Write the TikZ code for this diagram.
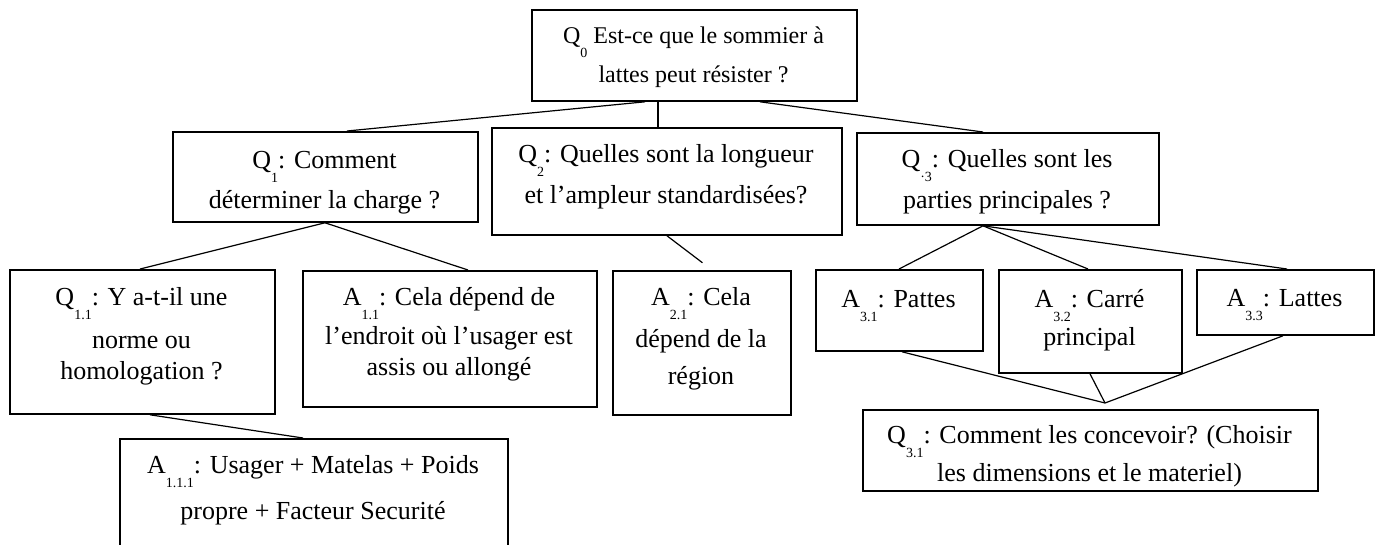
\documentclass[tikz,border=0pt]{standalone}
\usepackage{fontspec}
\setmainfont{Liberation Serif}
\usetikzlibrary{calc}
\newcommand\sbs[1]{\smash{\raisebox{-14pt}{\fontsize{14}{14}\selectfont #1}}}
\newcommand\fl{\rule{0pt}{18pt}}
\tikzset{
  box/.style={draw, line width=1.8pt, rectangle, inner sep=0pt, anchor=north west},
  txt/.style={anchor=north, inner sep=0pt, align=center, font=\fontsize{26}{31}\selectfont},
  txtsmall/.style={txt, font=\fontsize{24}{31}\selectfont},
  link/.style={line width=1.2pt},
}
\begin{document}
\begin{tikzpicture}[x=1pt,y=-1pt]
\clip (0,0) rectangle (1380,544);
% boxes
\node[box, minimum width=325pt, minimum height=91pt]  (Q0)   at (531,9)   {};
\node[box, minimum width=305pt, minimum height=90pt]  (Q1)   at (172,131) {};
\node[box, minimum width=350pt, minimum height=107pt] (Q2)   at (491,127) {};
\node[box, minimum width=302pt, minimum height=92pt]  (Q3)   at (856,132) {};
\node[box, minimum width=265pt, minimum height=144pt] (Q11)  at (9,269)   {};
\node[box, minimum width=294pt, minimum height=136pt] (A11)  at (302,270) {};
\node[box, minimum width=178pt, minimum height=144pt] (A21)  at (612,270) {};
\node[box, minimum width=167pt, minimum height=81pt]  (A31)  at (815,269) {};
\node[box, minimum width=183pt, minimum height=103pt] (A32)  at (998,269) {};
\node[box, minimum width=177pt, minimum height=65pt]  (A33)  at (1196,269) {};
\node[box, minimum width=455pt, minimum height=81pt]  (Q31)  at (862,409) {};
\node[box, minimum width=388pt, minimum height=130pt] (A111) at (119,438) {};
% texts
\node[txtsmall] (tQ0) at (693.5,25) {\fl Q\sbs{0} Est-ce que le sommier à\\[8pt] lattes peut résister ?};
\node[txt] (tQ1) at (324.5,150) {\fl Q\sbs{1}: Comment\\[9pt] déterminer la charge ?};
\node[txt] (tQ2) at (666,144) {\fl Q\sbs{2}: Quelles sont la longueur\\[10pt] et l’ampleur standardisées?};
\node[txt] (tQ3) at (1007,149) {\fl Q\sbs{·3}: Quelles sont les\\[10pt] parties principales ?};
\node[txt] (tQ11) at (141.5,287) {\fl Q\sbs{1.1}: Y a-t-il une\\[12pt] norme ou\\ homologation ?};
\node[txt] (tA11) at (449,287) {\fl A\sbs{1.1}: Cela dépend de\\[8pt] l’endroit où l’usager est\\ assis ou allongé};
\node[txt] (tA21) at (701,287) {\fl A\sbs{2.1}: Cela\\[11pt] dépend de la\\[6pt] région};
\node[txt] (tA31) at (898.5,289) {\fl A\sbs{3.1}: Pattes};
\node[txt] (tA32) at (1089.5,289) {\fl A\sbs{3.2}: Carré\\[7pt] principal};
\node[txt] (tA33) at (1284.5,288) {\fl A\sbs{3.3}: Lattes};
\node[txt] (tQ31) at (1089.5,425) {\fl Q\sbs{3.1}: Comment les concevoir? (Choisir\\[7pt] les dimensions et le materiel)};
\node[txt] (tA111) at (313,455) {\fl A\sbs{1.1.1}: Usager + Matelas + Poids\\[15pt] propre + Facteur Securité};
% connectors
\coordinate (apex) at (1105,403);
\draw[link] ([xshift=114pt]Q0.south west) -- ([xshift=175pt]Q1.north west);
\draw[link] ([xshift=127pt]Q0.south west) -- ([xshift=167pt]Q2.north west);
\draw[link] ([xshift=229pt]Q0.south west) -- ([xshift=127pt]Q3.north west);
\draw[link] ([xshift=153pt]Q1.south west) -- ([xshift=131pt]Q11.north west);
\draw[link] ([xshift=153pt]Q1.south west) -- ([xshift=166pt]A11.north west);
\draw[link, shorten >=12pt] ([xshift=176pt]Q2.south west) -- ([xshift=100pt]A21.north west);
\draw[link] ([xshift=127pt]Q3.south west) -- ([xshift=84pt]A31.north west);
\draw[link] ([xshift=127pt]Q3.south west) -- ([xshift=90pt]A32.north west);
\draw[link] ([xshift=127pt]Q3.south west) -- ([xshift=91pt]A33.north west);
\draw[link] ([xshift=141pt]Q11.south west) -- ([xshift=184pt]A111.north west);
\draw[link] ([xshift=87pt]A31.south west) -- (apex);
\draw[link] ([xshift=92pt]A32.south west) -- (apex);
\draw[link] ([xshift=87pt]A33.south west) -- (apex);
\end{tikzpicture}
\end{document}
